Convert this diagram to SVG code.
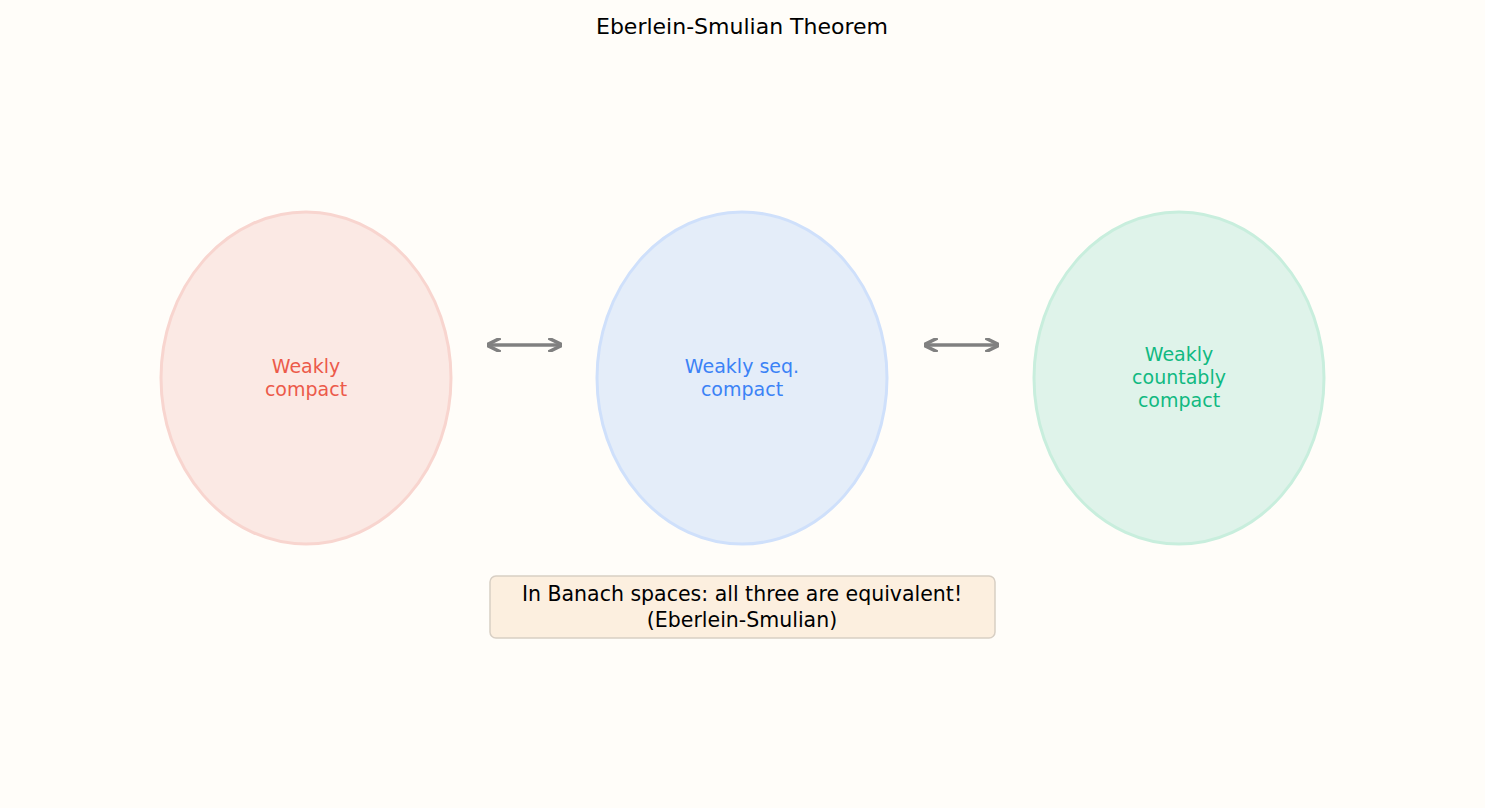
<svg xmlns="http://www.w3.org/2000/svg" width="1485" height="808" viewBox="0 0 1485 808">
<defs>
<marker id="ah" viewBox="0 0 10 10" refX="9" refY="5" markerWidth="4" markerHeight="4" orient="auto-start-reverse"><path d="M0,0 L10,5 L0,10" fill="none" stroke="#808080" stroke-width="2.5"/></marker>
</defs>
<style>
text{font-family:"DejaVu Sans",sans-serif;text-anchor:middle}
.lbl{font-size:19px}
.arr{stroke:#808080;stroke-width:3.5;fill:none;marker-start:url(#ah);marker-end:url(#ah)}
</style>
<rect width="1485" height="808" fill="#fffdf9"/>
<text x="742" y="34" font-size="22" fill="#000">Eberlein-Smulian Theorem</text>
<g id="n1"><ellipse cx="306" cy="378" rx="145" ry="166" fill="#fbe9e4" stroke="#f8d5cf" stroke-width="3"/>
<text class="lbl" fill="#ec5a4a" x="306" y="373">Weakly</text><text class="lbl" fill="#ec5a4a" x="306" y="396">compact</text></g>
<g id="n2"><ellipse cx="742" cy="378" rx="145" ry="166" fill="#e4edf9" stroke="#cfe0fb" stroke-width="3"/>
<text class="lbl" fill="#3b82f6" x="742" y="373">Weakly seq.</text><text class="lbl" fill="#3b82f6" x="742" y="396">compact</text></g>
<g id="n3"><ellipse cx="1179" cy="378" rx="145" ry="166" fill="#dff3ea" stroke="#c8eedd" stroke-width="3"/>
<text class="lbl" fill="#10b981" x="1179" y="361">Weakly</text><text class="lbl" fill="#10b981" x="1179" y="384">countably</text><text class="lbl" fill="#10b981" x="1179" y="407">compact</text></g>
<g id="connectors">
<line class="arr" x1="488" y1="345" x2="561" y2="345"/>
<line class="arr" x1="925" y1="345" x2="998" y2="345"/>
</g>
<g id="note"><rect x="490" y="576" width="505" height="62" rx="6" fill="#fcefdf" stroke="#d8cfc4" stroke-width="1.5"/>
<text x="742" y="601" font-size="20.5" fill="#000">In Banach spaces: all three are equivalent!</text>
<text x="742" y="627" font-size="20.5" fill="#000">(Eberlein-Smulian)</text></g>
</svg>
